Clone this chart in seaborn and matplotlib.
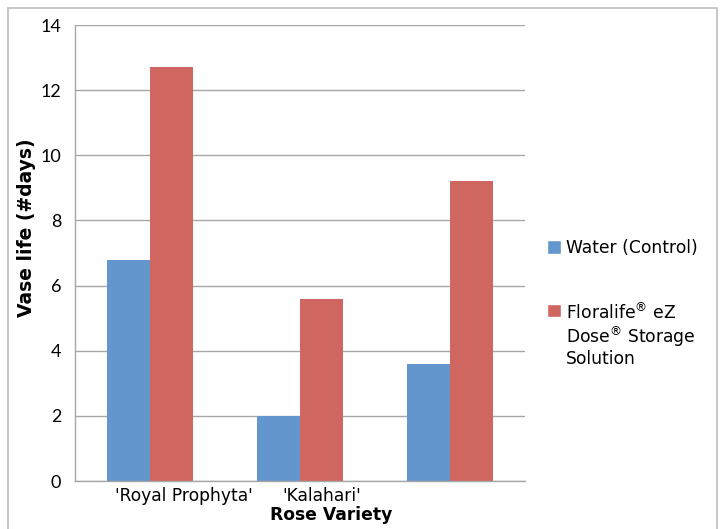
import numpy as np
import pandas as pd
import matplotlib
matplotlib.use("Agg")
import matplotlib.pyplot as plt
import matplotlib.transforms as mtransforms
from matplotlib.patches import Rectangle, Patch
from matplotlib.legend_handler import HandlerPatch
import seaborn as sns

# ── data ──────────────────────────────────────────────────────────────────────
varieties   = ["'Royal Prophyta'", "'Kalahari'", ""]
water       = [6.8, 2.0, 3.6]
floralife   = [12.7, 5.6, 9.2]
series      = ["Water (Control)",
               "Floralife$^{\u00ae}$ eZ\nDose$^{\u00ae}$ Storage\nSolution"]
yticks      = [0, 2, 4, 6, 8, 10, 12, 14]

BLUE = "#6296CC"
RED  = "#CF6660"
GRID = "#A6A6A6"

df = pd.DataFrame({
    "variety": list(range(3)) * 2,
    "series":  [series[0]] * 3 + [series[1]] * 3,
    "days":    water + floralife,
})

# ── figure ────────────────────────────────────────────────────────────────────
sns.set_style("white")
plt.rcParams["font.family"] = ["DejaVu Sans"]
plt.rcParams["text.color"] = "black"
plt.rcParams["mathtext.fontset"] = "dejavusans"

W, H = 726, 529
fig = plt.figure(figsize=(W / 100, H / 100), dpi=100)
ax = fig.add_axes([75 / W, (H - 481) / H, 450 / W, 456 / H])

sns.barplot(data=df, x="variety", y="days", hue="series", order=[0, 1, 2],
            palette=[BLUE, RED], width=0.575, gap=0, saturation=1,
            linewidth=0, ax=ax, legend=False)

ax.set_ylim(0, 14)
ax.set_xlim(-0.5, 2.5)
ax.set_yticks(yticks)
ax.set_yticklabels([str(t) for t in yticks], family="Lato", fontsize=13)
ax.yaxis.grid(True, color=GRID, linewidth=1)
ax.set_axisbelow(True)
ax.tick_params(axis="both", length=0, pad=10, colors="black")

for s in ["top", "right"]:
    ax.spines[s].set_visible(False)
for s in ["left", "bottom"]:
    ax.spines[s].set_color(GRID)
    ax.spines[s].set_linewidth(1)

# category labels (shifted like the original)
ax.set_xticks(range(3))
ax.set_xticklabels(varieties, fontsize=12.3)
ax.tick_params(axis="x", pad=4)
shifts = [34, 22, 0]
for lab, dx in zip(ax.get_xticklabels(), shifts):
    lab.set_transform(lab.get_transform() +
                      mtransforms.ScaledTranslation(dx / 100, 0, fig.dpi_scale_trans))

ax.set_xlabel("")
ax.set_ylabel("")
fig.text(331 / W, 1 - 515 / H, "Rose Variety", ha="center", va="center",
         fontsize=12.3, fontweight="bold")
fig.text(27 / W, 1 - 228 / H, "Vase life (#days)", ha="center", va="center",
         rotation=90, fontsize=13.5, fontweight="bold")


# legend: square swatch sitting at the bottom of a taller handle box,
# so it lines up with the first line of a wrapped label
def square_swatch(legend, orig_handle, xdescent, ydescent, width, height, fontsize):
    return Rectangle((-xdescent, -ydescent + 1), width, width)


handles = [Patch(facecolor=BLUE), Patch(facecolor=RED)]
leg = fig.legend(handles, series, loc="upper left",
                 bbox_to_anchor=(547 / W, 1 - 239 / H), frameon=False,
                 fontsize=12.3, handlelength=0.8, handleheight=1.1,
                 handletextpad=0.3, labelspacing=2.65, borderpad=0,
                 borderaxespad=0,
                 handler_map={Patch: HandlerPatch(patch_func=square_swatch)})
for t in leg.get_texts():
    t.set_linespacing(1.08)
for col in leg._legend_handle_box.get_children():
    for row in col.get_children():
        row.align = "top"

# outer chart frame
fig.add_artist(Rectangle((8 / W, -0.05), (W - 9) / W - 8 / W, 1.05 - 8 / H,
                         transform=fig.transFigure, fill=False,
                         edgecolor="#BDBDBD", linewidth=1.2))

fig.savefig("out.png", dpi=100)
